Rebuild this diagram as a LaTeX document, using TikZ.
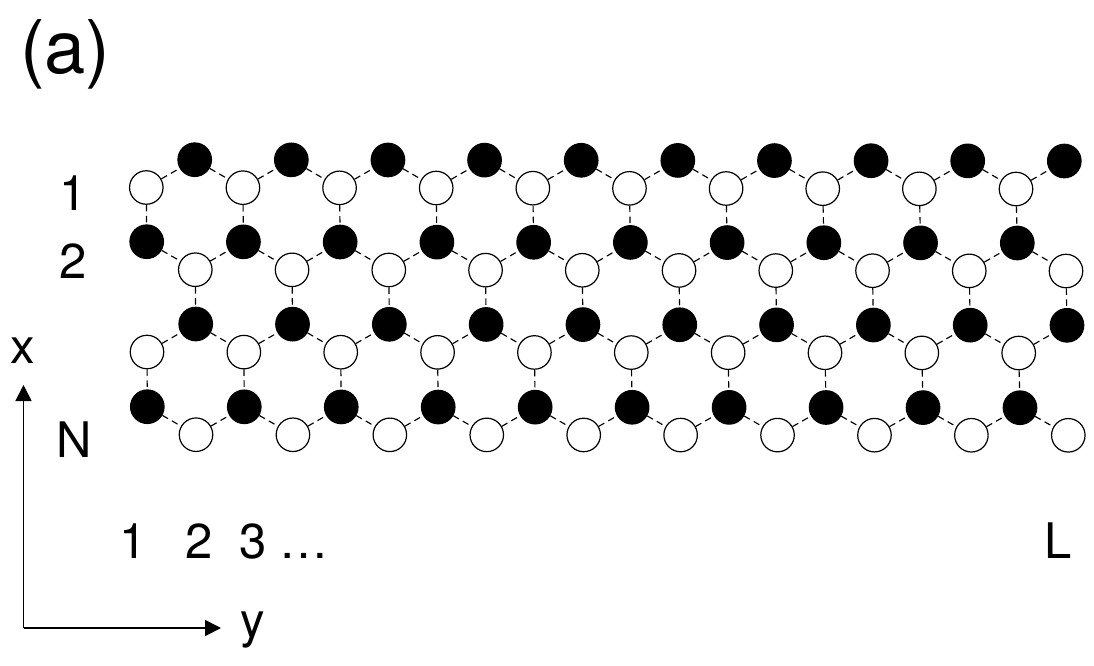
\documentclass[tikz,border=0pt]{standalone}
\usepackage{fontspec}
\setmainfont{TeX Gyre Heros}
\usetikzlibrary{arrows.meta}
\tikzset{
  atom/.style={circle,draw=black,line width=1.2pt,minimum size=33.5pt,inner sep=0pt},
  blackatom/.style={atom,fill=black},
  whiteatom/.style={atom,fill=white},
  bond/.style={draw=black,line width=1.15pt,dash pattern=on 6.5pt off 4.5pt},
  axisline/.style={draw=black,line width=1.8pt,-{Triangle[length=16pt,width=16pt]}},
  lab/.style={inner sep=0pt,anchor=base west,font=\fontsize{49}{49}\selectfont},
  biglab/.style={inner sep=0pt,anchor=base west,font=\fontsize{74}{74}\selectfont},
}
\begin{document}
\begin{tikzpicture}[x=1pt,y=-1pt]
\useasboundingbox (0,0) rectangle (1094,665);
% rows: name / x left / y left / x right / y right / style
\foreach \r/\xa/\ya/\xb/\yb/\st in {
  A/194.7/159.7/1064.3/161/blackatom,
  B/146.3/187.5/1016/189/whiteatom,
  C/146.7/241.7/1017.3/243/blackatom,
  D/195.3/269.7/1066/271/whiteatom,
  E/195.7/324/1067/325.3/blackatom,
  F/147/352/1018.7/353/whiteatom,
  G/147.3/406.7/1020/407.7/blackatom,
  H/196/434.7/1068.3/435.3/whiteatom}{
  \foreach \i in {0,...,9}{
    \pgfmathsetmacro{\px}{\xa+(\xb-\xa)*\i/9}
    \pgfmathsetmacro{\py}{\ya+(\yb-\ya)*\i/9}
    \node[\st] (\r\i) at (\px,\py) {};
  }
}
% zigzag bonds
\foreach \i in {0,...,9}{
  \draw[bond] (B\i) -- (A\i);
  \draw[bond] (C\i) -- (D\i);
  \draw[bond] (F\i) -- (E\i);
  \draw[bond] (G\i) -- (H\i);
  \draw[bond] (B\i) -- (C\i);
  \draw[bond] (D\i) -- (E\i);
  \draw[bond] (F\i) -- (G\i);
}
\foreach \i [evaluate=\i as \j using int(\i+1)] in {0,...,8}{
  \draw[bond] (A\i) -- (B\j);
  \draw[bond] (D\i) -- (C\j);
  \draw[bond] (E\i) -- (F\j);
  \draw[bond] (H\i) -- (G\j);
}
% axes
\coordinate (origin) at (23.5,628);
\coordinate (xtip) at (23.5,385);
\coordinate (ytip) at (221,628);
\draw[axisline] (origin) -- (xtip);
\draw[axisline] (origin) -- (ytip);
% labels
\node[biglab] (ta) at (20,73) {(a)};
\node[lab] (t1) at (59,210) {1};
\node[lab] (t2) at (59,278) {2};
\node[lab] (tx) at (10,363) {x};
\node[lab] (tN) at (56,457) {N};
\node[lab] (b1) at (119,558) {1};
\node[lab] (b2) at (185,558) {2};
\node[lab] (b3) at (239,558) {3};
\node[lab] (bd) at (279,558) {…};
\node[lab] (bL) at (1044,558) {L};
\node[lab] (ty) at (240,637) {y};
\end{tikzpicture}
\end{document}
